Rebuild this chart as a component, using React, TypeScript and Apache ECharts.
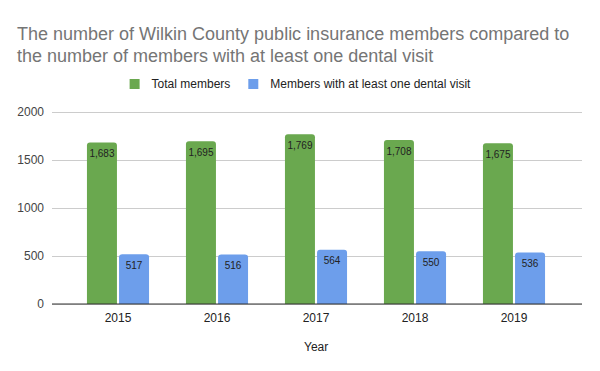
import React, { useEffect, useRef } from "react";
import * as echarts from "echarts";

const years = ["2015", "2016", "2017", "2018", "2019"];
const totalMembers = [1683, 1695, 1769, 1708, 1675];
const dentalMembers = [517, 516, 564, 550, 536];
const seriesNames = ["Total members", "Members with at least one dental visit"];
const titleText =
  "The number of Wilkin County public insurance members compared to\nthe number of members with at least one dental visit";

const FONT = "'Liberation Sans', Arial, sans-serif";

export default function App() {
  const ref = useRef<HTMLDivElement>(null);
  useEffect(() => {
    if (!ref.current) return;
    const chart = echarts.init(ref.current, undefined, { renderer: "svg" });
    const fmt = (p: any) => Number(p.value).toLocaleString("en-US");
    chart.setOption({
      animation: false,
      backgroundColor: "#ffffff",
      textStyle: { fontFamily: FONT },
      title: {
        text: titleText,
        left: 12,
        top: 18,
        textStyle: {
          fontSize: 18,
          fontWeight: "normal",
          color: "#757575",
          lineHeight: 22,
          fontFamily: FONT,
        },
      },
      legend: {
        data: seriesNames,
        top: 73,
        left: "center",
        itemWidth: 10,
        itemHeight: 10,
        itemGap: 18,
        icon: "rect",
        textStyle: { fontSize: 12, color: "#222", fontFamily: FONT, padding: [0, 0, 0, 7] },
      },
      grid: [
        { left: 52, right: 18, top: 112, bottom: 67 },
        { left: 68.5, right: 36.5, top: 112, bottom: 67 },
      ],
      xAxis: [
        {
          type: "category",
          gridIndex: 0,
          data: years,
          show: false,
        },
        {
          type: "category",
          gridIndex: 1,
          data: years,
          axisTick: { show: false },
          axisLine: { show: false },
          axisLabel: { fontSize: 12, color: "#222", margin: 8, fontFamily: FONT },
        },
      ],
      yAxis: [
        {
          type: "value",
          gridIndex: 0,
          min: 0,
          max: 2000,
          interval: 500,
          axisLabel: { fontSize: 12, color: "#444", margin: 8, fontFamily: FONT, formatter: (v: number) => String(v) },
          axisLine: { show: false },
          axisTick: { show: false },
          splitLine: { lineStyle: { color: "#cccccc" } },
        },
        {
          type: "value",
          gridIndex: 1,
          min: 0,
          max: 2000,
          interval: 500,
          show: false,
          splitLine: { show: false },
        },
      ],
      graphic: [
        {
          type: "line",
          shape: { x1: 52, y1: 304, x2: 582, y2: 304 },
          style: { stroke: "#333", lineWidth: 1 },
          z: 100,
        },
        {
          type: "text",
          left: 304,
          top: 341,
          style: { text: "Year", fontSize: 12, fill: "#222", fontFamily: FONT },
        },
      ],
      series: [
        {
          name: seriesNames[0],
          type: "bar",
          xAxisIndex: 1,
          yAxisIndex: 1,
          data: totalMembers,
          barWidth: 30,
          barGap: "7%",
          itemStyle: { color: "#6aa84f", borderRadius: [3, 3, 0, 0] },
          label: {
            show: true,
            position: "insideTop",
            distance: 6,
            fontSize: 10,
            color: "#222",
            fontFamily: FONT,
            formatter: fmt,
          },
        },
        {
          name: seriesNames[1],
          type: "bar",
          xAxisIndex: 1,
          yAxisIndex: 1,
          data: dentalMembers,
          barWidth: 30,
          barGap: "7%",
          itemStyle: { color: "#6d9eeb", borderRadius: [3, 3, 0, 0] },
          label: {
            show: true,
            position: "insideTop",
            distance: 6,
            fontSize: 10,
            color: "#222",
            fontFamily: FONT,
            formatter: fmt,
          },
        },
      ],
    });
    return () => chart.dispose();
  }, []);
  return <div ref={ref} style={{ width: 600, height: 371, position: "absolute", left: 0, top: 0 }} />;
}
